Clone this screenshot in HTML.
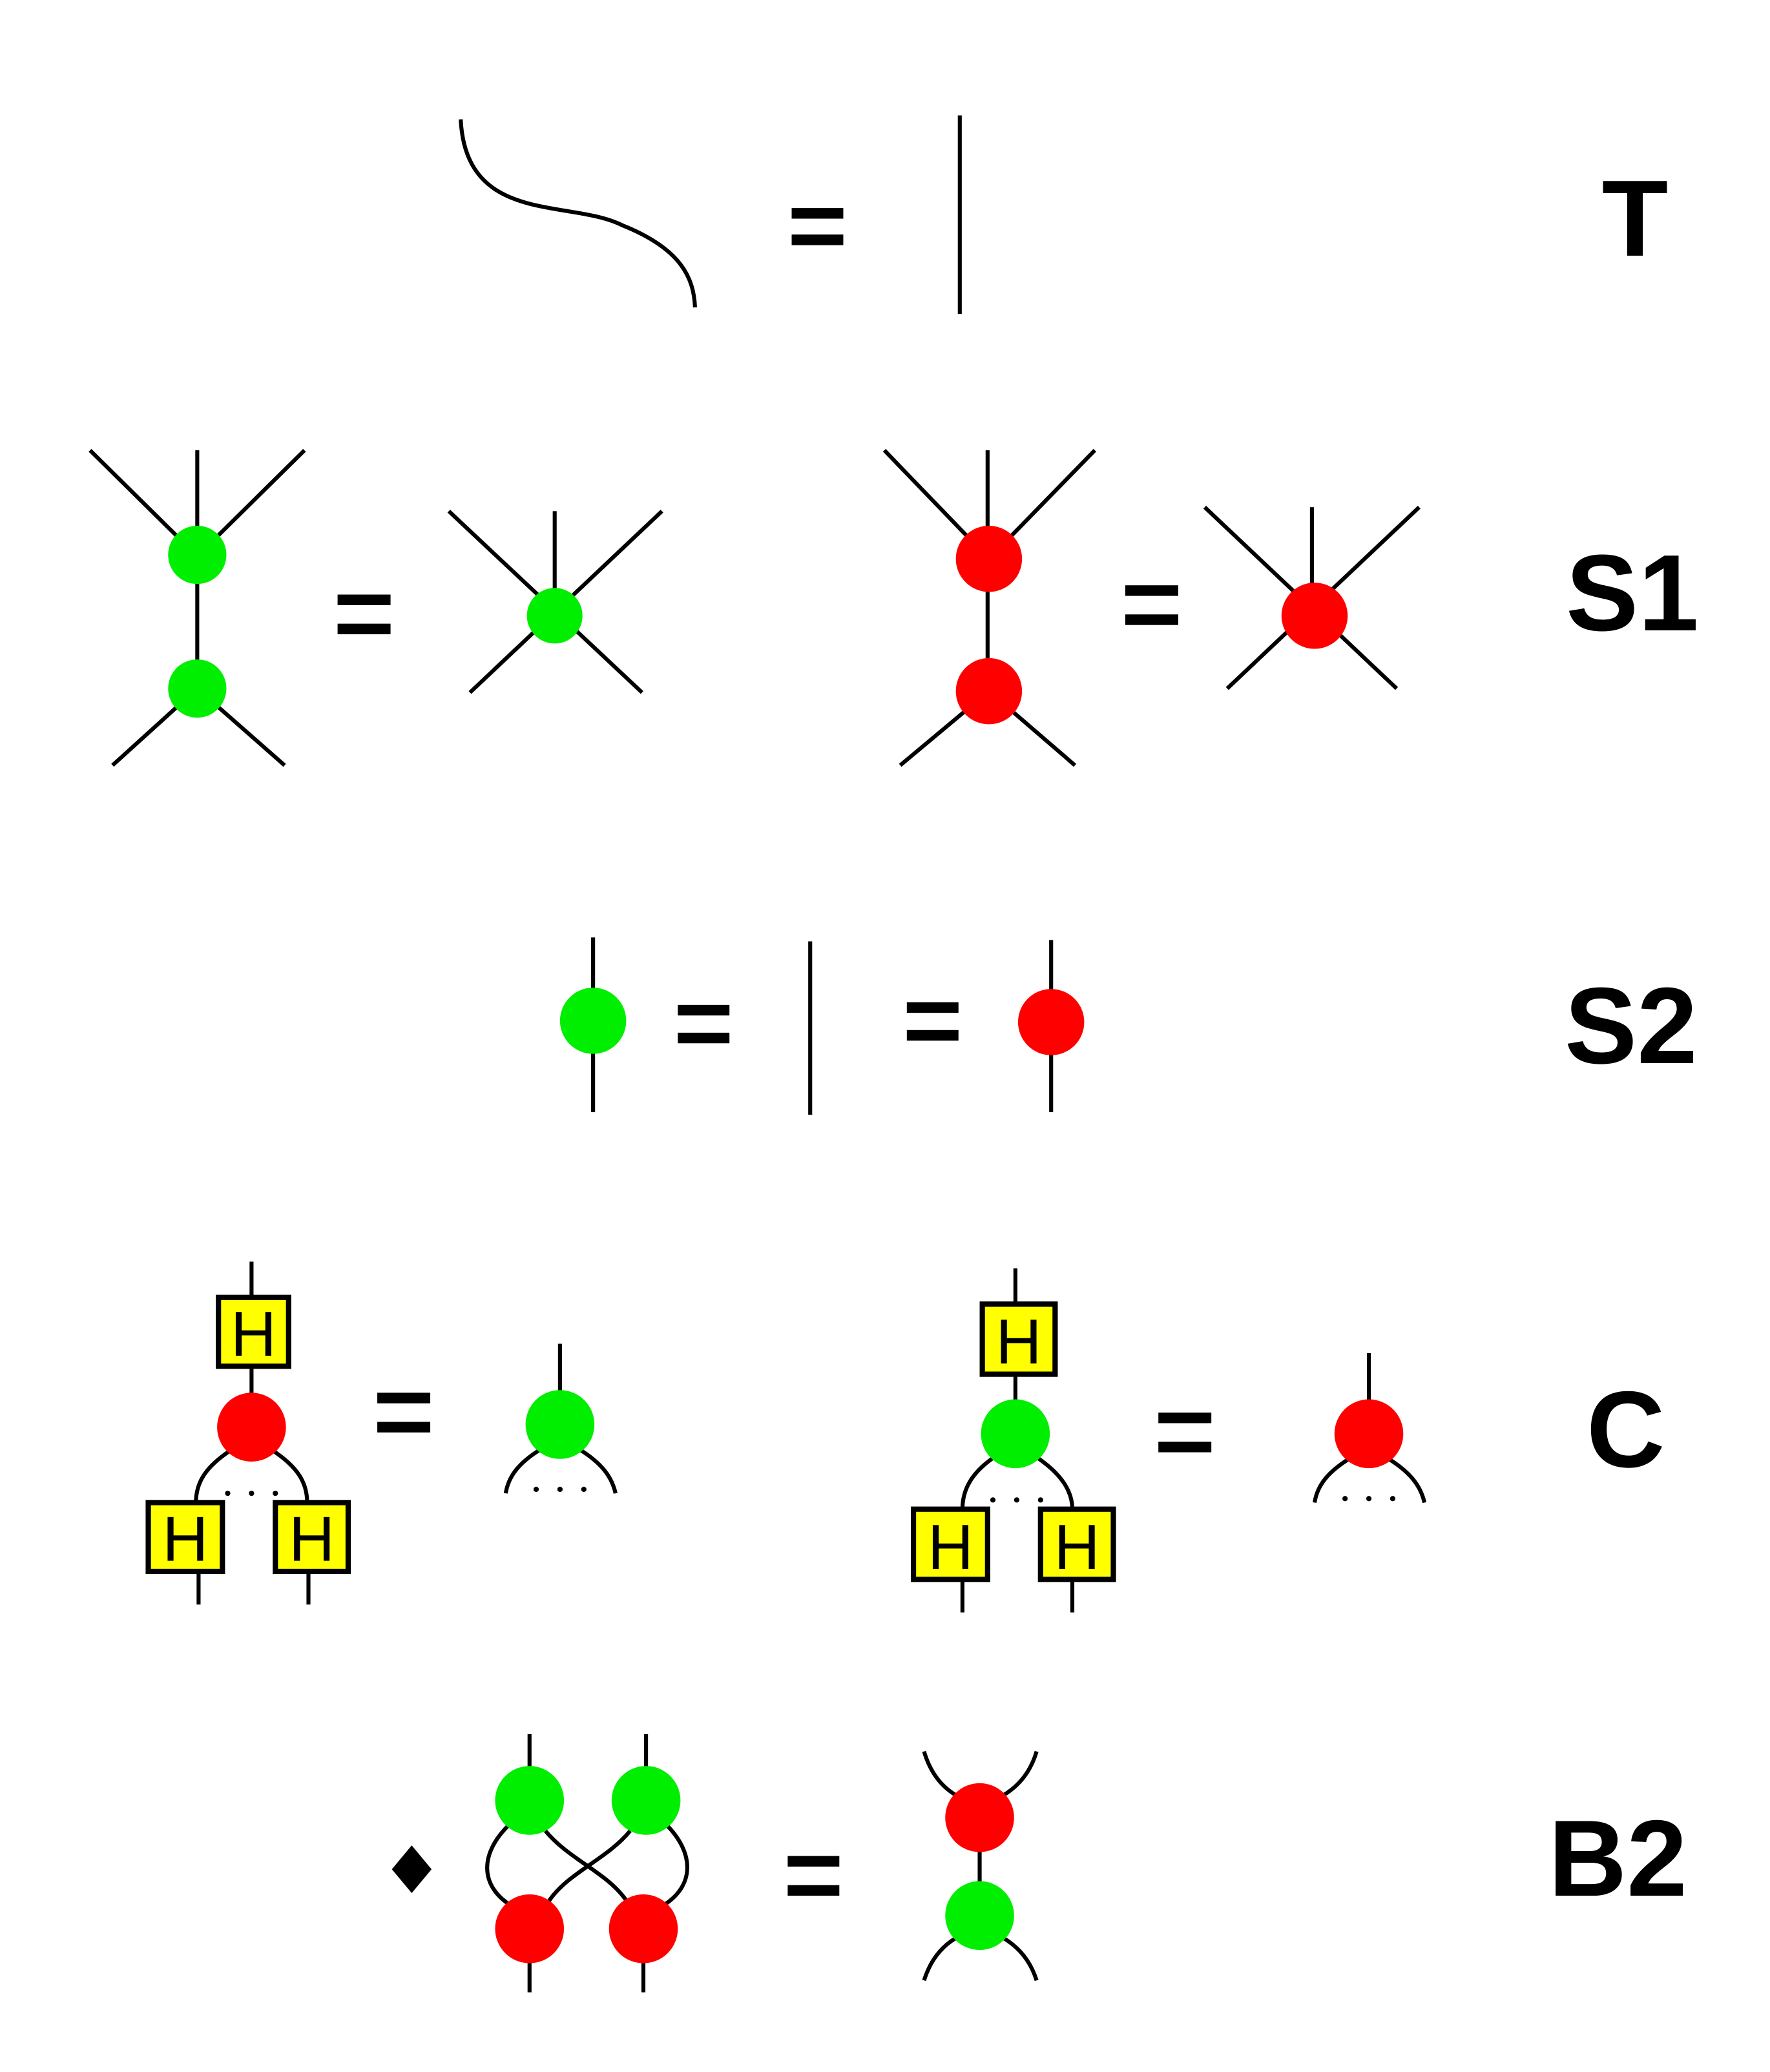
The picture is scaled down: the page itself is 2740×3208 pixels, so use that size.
<!DOCTYPE html>
<html><head><meta charset="utf-8"><style>
html,body{margin:0;padding:0;background:#fff;}
svg{display:block;}
text{font-family:"Liberation Sans",Arial,sans-serif;font-weight:bold;}
</style></head><body>
<svg width="2740" height="3208" viewBox="0 0 1337 1565" xmlns="http://www.w3.org/2000/svg">
<g stroke="#000" stroke-width="3" fill="none" stroke-linecap="butt">
<!-- T -->
<g>
<path d="M348 90 C352 170 430 150 470 170 C515 188 524 210 525 232"/>
<line x1="725" y1="87" x2="725" y2="237"/>
</g>
<!-- S1 left -->
<g>
<line x1="68" y1="340" x2="149" y2="420"/><line x1="230" y1="340" x2="149" y2="420"/>
<line x1="149" y1="340" x2="149" y2="520"/>
<line x1="149" y1="520" x2="85" y2="578"/><line x1="149" y1="520" x2="215" y2="578"/>
<line x1="339" y1="386" x2="485" y2="523"/><line x1="500" y1="386" x2="355" y2="523"/>
<line x1="419" y1="386" x2="419" y2="465"/>
</g>
<g>
<line x1="668" y1="340" x2="747" y2="422"/><line x1="827" y1="340" x2="747" y2="422"/>
<line x1="746" y1="340" x2="746" y2="522"/>
<line x1="747" y1="522" x2="680" y2="578"/><line x1="747" y1="522" x2="812" y2="578"/>
<line x1="910" y1="383" x2="1055" y2="520"/><line x1="1072" y1="383" x2="927" y2="520"/>
<line x1="991" y1="383" x2="991" y2="465"/>
</g>
<!-- S2 -->
<g>
<line x1="448" y1="708" x2="448" y2="840"/>
<line x1="612" y1="711" x2="612" y2="842"/>
<line x1="794" y1="710" x2="794" y2="840"/>
</g>
<!-- C left -->
<g>
<line x1="190" y1="953" x2="190" y2="1078"/>
<path d="M175 1095 C155 1108 148 1120 148 1135"/><path d="M205 1095 C225 1108 232 1120 232 1135"/>
<line x1="150" y1="1187" x2="150" y2="1212"/><line x1="233" y1="1187" x2="233" y2="1212"/>
<line x1="423" y1="1015" x2="423" y2="1076"/>
<path d="M408 1095 C392 1105 384 1115 382 1128"/><path d="M438 1095 C454 1105 462 1115 465 1128"/>
</g>
<!-- C right -->
<g>
<line x1="767" y1="958" x2="767" y2="1083"/>
<path d="M752 1100 C734 1112 727 1125 727 1140"/><path d="M782 1100 C800 1112 810 1125 810 1140"/>
<line x1="727" y1="1193" x2="727" y2="1218"/><line x1="810" y1="1193" x2="810" y2="1218"/>
<line x1="1034" y1="1022" x2="1034" y2="1083"/>
<path d="M1019 1102 C1003 1112 995 1122 993 1135"/><path d="M1049 1102 C1065 1112 1073 1122 1076 1135"/>
</g>
<!-- B2 -->
<g>
<line x1="400" y1="1310" x2="400" y2="1360"/><line x1="488" y1="1310" x2="488" y2="1360"/>
<line x1="400" y1="1457" x2="400" y2="1505"/><line x1="486" y1="1457" x2="486" y2="1505"/>
<path d="M385 1378 C362 1400 362 1425 387 1440"/>
<path d="M503 1378 C525 1400 525 1425 500 1440"/>
<path d="M412 1383 C430 1405 460 1415 474 1437"/>
<path d="M476 1383 C458 1405 428 1415 414 1437"/>
<line x1="740" y1="1373" x2="740" y2="1447"/>
<path d="M698 1323 C703 1340 712 1350 722 1356"/><path d="M783 1323 C778 1340 768 1350 758 1356"/>
<path d="M698 1496 C703 1480 712 1470 722 1464"/><path d="M783 1496 C778 1480 768 1470 758 1464"/>
</g>
</g>
<!-- nodes -->
<g>
<circle cx="149" cy="419" r="22" fill="#00ee00"/><circle cx="149" cy="520" r="22" fill="#00ee00"/>
<circle cx="419" cy="465" r="21" fill="#00ee00"/>
<circle cx="747" cy="422" r="25" fill="#ff0000"/><circle cx="747" cy="522" r="25" fill="#ff0000"/>
<circle cx="993" cy="465" r="25" fill="#ff0000"/>
<circle cx="448" cy="771" r="25" fill="#00ee00"/><circle cx="794" cy="772" r="25" fill="#ff0000"/>
<circle cx="190" cy="1078" r="26" fill="#ff0000"/><circle cx="423" cy="1076" r="26" fill="#00ee00"/>
<circle cx="767" cy="1083" r="26" fill="#00ee00"/><circle cx="1034" cy="1083" r="26" fill="#ff0000"/>
<circle cx="400" cy="1360" r="26" fill="#00ee00"/><circle cx="488" cy="1360" r="26" fill="#00ee00"/>
<circle cx="400" cy="1457" r="26" fill="#ff0000"/><circle cx="486" cy="1457" r="26" fill="#ff0000"/>
<circle cx="740" cy="1373" r="26" fill="#ff0000"/><circle cx="740" cy="1447" r="26" fill="#00ee00"/>
</g>
<!-- dots -->
<g fill="#000">
<circle cx="172" cy="1128" r="2"/><circle cx="190" cy="1128" r="2"/><circle cx="208" cy="1128" r="2"/>
<circle cx="405" cy="1125" r="2"/><circle cx="423" cy="1125" r="2"/><circle cx="441" cy="1125" r="2"/>
<circle cx="750" cy="1133" r="2"/><circle cx="768" cy="1133" r="2"/><circle cx="786" cy="1133" r="2"/>
<circle cx="1016" cy="1132" r="2"/><circle cx="1034" cy="1132" r="2"/><circle cx="1052" cy="1132" r="2"/>
</g>
<!-- H boxes -->
<g>
<g><rect x="165" y="980" width="53" height="52" fill="#ffff00" stroke="#000" stroke-width="4"/><text x="191.5" y="1024" font-size="48" font-weight="normal" text-anchor="middle" style="font-weight:normal">H</text></g>
<g><rect x="112" y="1135" width="56" height="52" fill="#ffff00" stroke="#000" stroke-width="4"/><text x="140" y="1179" font-size="48" text-anchor="middle" style="font-weight:normal">H</text></g>
<g><rect x="208" y="1135" width="55" height="52" fill="#ffff00" stroke="#000" stroke-width="4"/><text x="235.5" y="1179" font-size="48" text-anchor="middle" style="font-weight:normal">H</text></g>
<g><rect x="742" y="985" width="55" height="53" fill="#ffff00" stroke="#000" stroke-width="4"/><text x="769.5" y="1030" font-size="48" text-anchor="middle" style="font-weight:normal">H</text></g>
<g><rect x="690" y="1140" width="56" height="53" fill="#ffff00" stroke="#000" stroke-width="4"/><text x="718" y="1185" font-size="48" text-anchor="middle" style="font-weight:normal">H</text></g>
<g><rect x="786" y="1140" width="55" height="53" fill="#ffff00" stroke="#000" stroke-width="4"/><text x="813.5" y="1185" font-size="48" text-anchor="middle" style="font-weight:normal">H</text></g>
</g>
<!-- equals signs -->
<g fill="#000">
<rect x="598" y="157" width="39" height="8"/><rect x="598" y="177" width="39" height="8"/>
<rect x="255" y="449" width="40" height="8"/><rect x="255" y="471" width="40" height="8"/>
<rect x="850" y="442" width="40" height="8"/><rect x="850" y="464" width="40" height="8"/>
<rect x="512" y="759" width="39" height="8"/><rect x="512" y="780" width="39" height="8"/>
<rect x="685" y="757" width="39" height="8"/><rect x="685" y="778" width="39" height="8"/>
<rect x="285" y="1052" width="40" height="8"/><rect x="285" y="1074" width="40" height="8"/>
<rect x="875" y="1067" width="40" height="8"/><rect x="875" y="1089" width="40" height="8"/>
<rect x="595" y="1402" width="39" height="8"/><rect x="595" y="1424" width="39" height="8"/>
<polygon points="311,1394 326,1412 311,1430 296,1412"/>
</g>
<!-- labels -->
<g fill="#000" text-anchor="middle">
<text x="1235" y="193" font-size="82">T</text>
<text x="1233" y="476" font-size="82">S1</text>
<text x="1232" y="803" font-size="82">S2</text>
<text x="1228" y="1108" font-size="82">C</text>
<text x="1222" y="1432" font-size="82">B2</text>
</g>
</svg>
</body></html>
